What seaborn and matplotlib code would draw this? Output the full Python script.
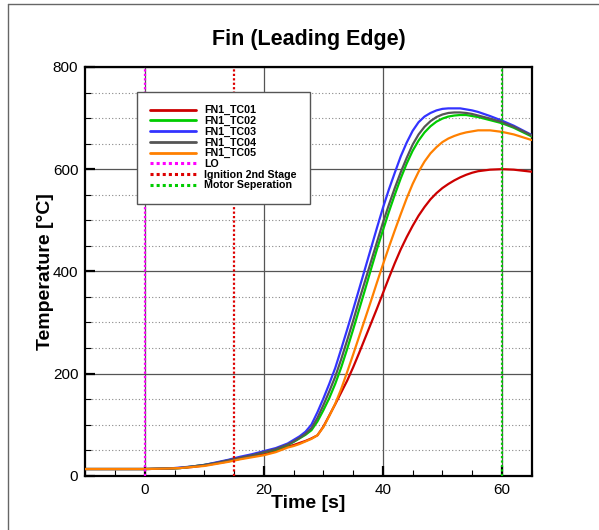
import numpy as np
import pandas as pd
import matplotlib
matplotlib.use("Agg")
import matplotlib.pyplot as plt
from matplotlib.lines import Line2D
from matplotlib.ticker import MultipleLocator
import seaborn as sns

# Time base [s] and thermocouple readings [°C] on the fin leading edge
time_s = [-10, 0, 4, 6, 8, 10, 12, 14, 16, 18, 20, 22, 24,
          25, 26, 27, 28, 29, 30, 31, 32, 33, 34, 35, 36, 37, 38, 39, 40,
          41, 42, 43, 44, 45, 46, 47, 48, 49, 50, 51, 52, 53, 54, 55, 56,
          58, 60, 62, 65]
fn1_tc01 = [13, 13, 14, 15, 17, 20, 24, 28, 33, 38, 42, 48, 57,
            60, 64, 68, 73, 79, 96, 118, 140, 163, 186, 212, 240, 269, 298, 327, 357,
            387, 416, 443, 467, 489, 509, 526, 541, 553, 563, 571, 578, 584, 589, 593, 596,
            599, 600, 599, 595]
fn1_tc02 = [13, 13, 14, 15, 18, 21, 25, 30, 35, 40, 46, 51, 60,
            66, 73, 80, 89, 106, 128, 152, 180, 212, 248, 286, 325, 364, 404, 443, 480,
            516, 550, 582, 611, 636, 656, 672, 684, 693, 699, 703, 705, 706, 706, 704, 702,
            696, 690, 681, 664]
fn1_tc03 = [13, 13, 14, 16, 18, 21, 26, 31, 37, 42, 48, 54, 63,
            70, 77, 86, 100, 124, 151, 180, 211, 248, 286, 325, 365, 405, 445, 485, 524,
            560, 593, 625, 652, 675, 692, 703, 710, 715, 718, 719, 719, 719, 717, 715, 712,
            704, 695, 685, 667]
fn1_tc04 = [13, 13, 14, 15, 18, 21, 25, 30, 35, 40, 46, 52, 61,
            67, 74, 82, 93, 113, 138, 165, 194, 228, 265, 303, 343, 381, 419, 457, 495,
            530, 563, 594, 622, 648, 668, 683, 694, 702, 707, 710, 711, 711, 710, 708, 705,
            699, 692, 683, 666]
fn1_tc05 = [13, 13, 14, 15, 17, 19, 23, 27, 32, 36, 40, 46, 55,
            58, 62, 67, 72, 79, 95, 117, 141, 170, 203, 237, 272, 307, 342, 378, 413,
            447, 480, 512, 543, 571, 595, 615, 631, 643, 653, 660, 665, 669, 672, 674, 676,
            676, 673, 668, 657]

series_names = ["FN1_TC01", "FN1_TC02", "FN1_TC03", "FN1_TC04", "FN1_TC05"]
series_colors = ["#cc0000", "#00cc00", "#3333ff", "#555555", "#ff8000"]

# Flight events [s]
event_names = ["LO", "Ignition 2nd Stage", "Motor Seperation"]
event_times = [0, 15, 60]
event_colors = ["#ff00ff", "#dd0000", "#00cc00"]

x_ticks = [0, 20, 40, 60]
y_ticks = [0, 200, 400, 600, 800]

frames = []
for name, vals in zip(series_names, [fn1_tc01, fn1_tc02, fn1_tc03, fn1_tc04, fn1_tc05]):
    frames.append(pd.DataFrame({"time": time_s, "temp": vals, "sensor": name}))
df = pd.concat(frames, ignore_index=True)

sns.set_style("white")
plt.rcParams["font.family"] = ["Liberation Sans", "DejaVu Sans"]
plt.rcParams["text.color"] = "black"
plt.rcParams["axes.labelcolor"] = "black"
plt.rcParams["xtick.color"] = "black"
plt.rcParams["ytick.color"] = "black"

fig = plt.figure(figsize=(5.99, 5.30), dpi=100)
ax = fig.add_axes([0.1424, 0.1025, 0.7452, 0.7711])

# grid: solid major lines, dotted minor lines along y
ax.set_axisbelow(True)
ax.xaxis.set_major_locator(MultipleLocator(20))
ax.xaxis.set_minor_locator(MultipleLocator(5))
ax.yaxis.set_major_locator(MultipleLocator(200))
ax.yaxis.set_minor_locator(MultipleLocator(50))
ax.grid(which="major", color="#555555", linewidth=0.9, linestyle="-")
ax.grid(which="minor", axis="y", color="#888888", linewidth=0.8, linestyle=(0, (1, 2)))

sns.lineplot(data=df, x="time", y="temp", hue="sensor", hue_order=series_names,
             palette=series_colors, linewidth=1.6, ax=ax, legend=False, zorder=3)

for t, c in zip(event_times, event_colors):
    ax.axvline(t, color=c, linewidth=1.6, linestyle=(0, (1, 1)), zorder=4)

ax.set_xlim(-10, 65)
ax.set_ylim(0, 800)
ax.set_xticks(x_ticks)
ax.set_yticks(y_ticks)

for side in ["left", "right", "top", "bottom"]:
    ax.spines[side].set_visible(True)
    ax.spines[side].set_color("black")
    ax.spines[side].set_linewidth(1.6)

ax.tick_params(which="major", direction="in", length=7, width=1.6, colors="black",
               labelsize=11, bottom=True, left=True, top=False, right=False, pad=5)
ax.tick_params(which="minor", direction="in", length=4, width=0.8, colors="black",
               bottom=True, left=True, top=False, right=False)

ax.set_xlabel("Time [s]", fontsize=14, fontweight="bold")
ax.set_ylabel("Temperature [°C]", fontsize=14, fontweight="bold")
ax.xaxis.set_label_coords(0.5, -0.067)
ax.xaxis.label.set_verticalalignment("center")
ax.yaxis.set_label_coords(-0.090, 0.5)
ax.yaxis.label.set_verticalalignment("center")

fig.text(0.515, 0.926, "Fin (Leading Edge)", fontsize=15.5, fontweight="bold",
         ha="center", va="center")

# legend
handles = [Line2D([0], [0], color=c, linewidth=2) for c in series_colors]
handles += [Line2D([0], [0], color=c, linewidth=2.2, linestyle=(0, (1, 1)))
            for c in event_colors]
labels = series_names + event_names
leg = ax.legend(handles, labels, loc="upper left", bbox_to_anchor=(0.116, 0.939),
                borderaxespad=0, frameon=True, fancybox=False, edgecolor="#555555",
                framealpha=1, prop={"weight": "bold", "size": 7.7},
                handlelength=4.3, handletextpad=0.7, labelspacing=0.06,
                borderpad=1.25)
leg.get_frame().set_linewidth(1.0)
leg.set_zorder(6)

# outer frame lines
fig.add_artist(Line2D([8 / 599, 8 / 599], [0, 1 - 4 / 530], color="#666666",
                      linewidth=1.0, transform=fig.transFigure))
fig.add_artist(Line2D([8 / 599, 1], [1 - 4 / 530, 1 - 4 / 530], color="#666666",
                      linewidth=1.0, transform=fig.transFigure))

fig.savefig("out.png", dpi=100)
